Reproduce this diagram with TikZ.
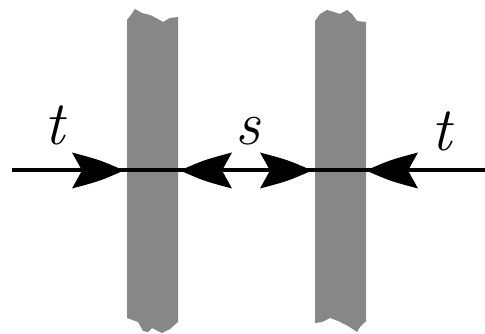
\documentclass[tikz,border=0pt]{standalone}
\usepackage{fontspec}
\begin{document}
\begin{tikzpicture}[x=1pt,y=-1pt,
  bar/.style={fill=barg,draw=none},
  head/.style={fill=black,draw=none},
  lbl/.style={font=\fontsize{62}{62}\selectfont\itshape,inner sep=0pt}]
\definecolor{barg}{HTML}{878787}
\useasboundingbox (0,0) rectangle (485,334);
% bars
\fill[bar] (127,20) -- (131,15) -- (135,9) -- (142,13) -- (150,15) -- (158,19) -- (163,22) -- (170,18) -- (178,17)
  -- (178,322) -- (170,329) -- (162,333) -- (156,330) -- (152,328) -- (148,332) -- (143,331) -- (138,322) -- (127,318) -- cycle;
\fill[bar] (315,21) -- (320,14) -- (327,10) -- (334,12) -- (340,14) -- (347,10) -- (352,14) -- (357,21) -- (366,22)
  -- (366,321) -- (360,327) -- (357,332) -- (348,326) -- (338,321) -- (330,318) -- (322,322) -- (315,323) -- cycle;
% line
\coordinate (L) at (12,170.5);
\coordinate (R) at (485,170.5);
\draw[line width=4pt] (L) -- (R);
% arrowheads
\fill[head] (124,170.5) .. controls (100,160) .. (72,152.5) -- (82,170.5) -- (72,188.5) .. controls (100,181) .. cycle;
\fill[head] (180,170.5) .. controls (204,160) .. (232,152.5) -- (222,170.5) -- (232,188.5) .. controls (204,181) .. cycle;
\fill[head] (312,170.5) .. controls (288,160) .. (260,152.5) -- (270,170.5) -- (260,188.5) .. controls (288,181) .. cycle;
\fill[head] (366,170.5) .. controls (390,160) .. (418,152.5) -- (408,170.5) -- (418,188.5) .. controls (390,181) .. cycle;
% labels
\node[lbl] (t1) at (55,125) {t};
\node[lbl] (s) at (248,131) {s};
\node[lbl] (t2) at (442,131) {t};
\end{tikzpicture}
\end{document}
